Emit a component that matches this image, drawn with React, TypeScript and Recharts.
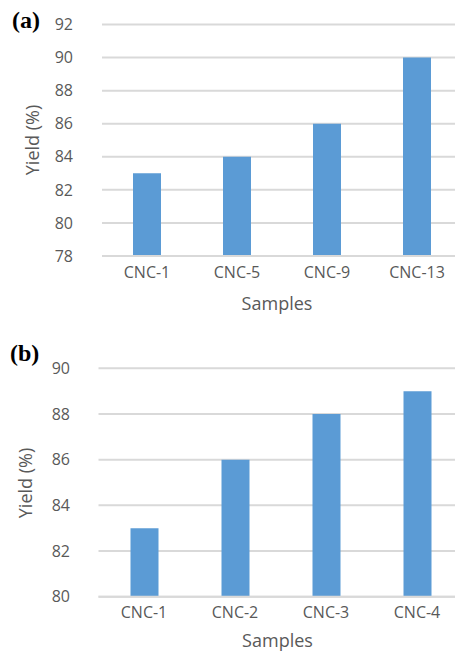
import { Bar, BarChart, CartesianGrid, Label, XAxis, YAxis } from "recharts";

const SAMPLES_A = ["CNC-1", "CNC-5", "CNC-9", "CNC-13"];
const YIELD_A = [83, 84, 86, 90];
const TICKS_A = [78, 80, 82, 84, 86, 88, 90, 92];

const SAMPLES_B = ["CNC-1", "CNC-2", "CNC-3", "CNC-4"];
const YIELD_B = [83, 86, 88, 89];
const TICKS_B = [80, 82, 84, 86, 88, 90];

const FONT = "'Open Sans', sans-serif";
const TEXT = "#595959";
const GRID = "#d9d9d9";
const BAR = "#5b9bd5";

type PanelProps = {
  samples: string[];
  values: number[];
  ticks: number[];
  top: number;
  width: number;
  height: number;
  marginTop: number;
  yAxisWidth: number;
  xAxisHeight: number;
  yTickGap: number;
  xTickGap: number;
  yLabelX: number;
  yLabelY: number;
  xLabelX: number;
  xLabelY: number;
};

function Panel(p: PanelProps) {
  const data = p.samples.map((s, i) => ({ name: s, value: p.values[i] }));
  return (
    <div style={{ position: "absolute", left: 0, top: p.top }}>
      <BarChart
        width={p.width}
        height={p.height}
        data={data}
        margin={{ top: p.marginTop, right: 0, bottom: 0, left: 0 }}
        barSize={28}
      >
        <CartesianGrid vertical={false} stroke={GRID} strokeWidth={2} />
        <XAxis
          dataKey="name"
          height={p.xAxisHeight}
          tickLine={false}
          tickSize={0}
          tickMargin={p.xTickGap}
          axisLine={{ stroke: GRID, strokeWidth: 2 }}
          tick={{ fill: TEXT, fontSize: 16, fontFamily: FONT }}
        >
          <Label
            content={() => (
              <text x={p.xLabelX} y={p.xLabelY} textAnchor="middle" fill={TEXT} fontSize={18} fontFamily={FONT}>
                Samples
              </text>
            )}
          />
        </XAxis>
        <YAxis
          width={p.yAxisWidth}
          domain={[p.ticks[0], p.ticks[p.ticks.length - 1]]}
          ticks={p.ticks}
          interval={0}
          axisLine={false}
          tickLine={false}
          tickSize={0}
          tickMargin={p.yTickGap}
          tick={{ fill: TEXT, fontSize: 16, fontFamily: FONT }}
        >
          <Label
            content={() => (
              <text
                x={p.yLabelX}
                y={p.yLabelY}
                transform={`rotate(-90 ${p.yLabelX} ${p.yLabelY})`}
                textAnchor="middle"
                dominantBaseline="central"
                fill={TEXT}
                fontSize={18}
                fontFamily={FONT}
              >
                Yield (%)
              </text>
            )}
          />
        </YAxis>
        <Bar dataKey="value" fill={BAR} isAnimationActive={false} />
      </BarChart>
    </div>
  );
}

const tag: React.CSSProperties = {
  position: "absolute",
  fontFamily: "'Liberation Serif', 'Times New Roman', serif",
  fontWeight: "bold",
  fontSize: 24,
  lineHeight: "24px",
  color: "#000",
};

export default function App() {
  return (
    <div style={{ position: "fixed", left: 0, top: 0, width: 455, height: 651, overflow: "hidden", background: "#fff" }}>
      <Panel
        samples={SAMPLES_A}
        values={YIELD_A}
        ticks={TICKS_A}
        top={0}
        width={462}
        height={320}
        marginTop={24.5}
        yAxisWidth={102}
        xAxisHeight={64}
        yTickGap={29}
        xTickGap={11}
        yLabelX={32}
        yLabelY={140}
        xLabelX={277}
        xLabelY={310}
      />
      <Panel
        samples={SAMPLES_B}
        values={YIELD_B}
        ticks={TICKS_B}
        top={330}
        width={462.5}
        height={321}
        marginTop={38.3}
        yAxisWidth={98.5}
        xAxisHeight={54.3}
        yTickGap={28.5}
        xTickGap={9.5}
        yLabelX={25}
        yLabelY={153}
        xLabelX={277.5}
        xLabelY={317}
      />
      <div style={{ ...tag, left: 12, top: 8 }}>(a)</div>
      <div style={{ ...tag, left: 10, top: 341 }}>(b)</div>
    </div>
  );
}
